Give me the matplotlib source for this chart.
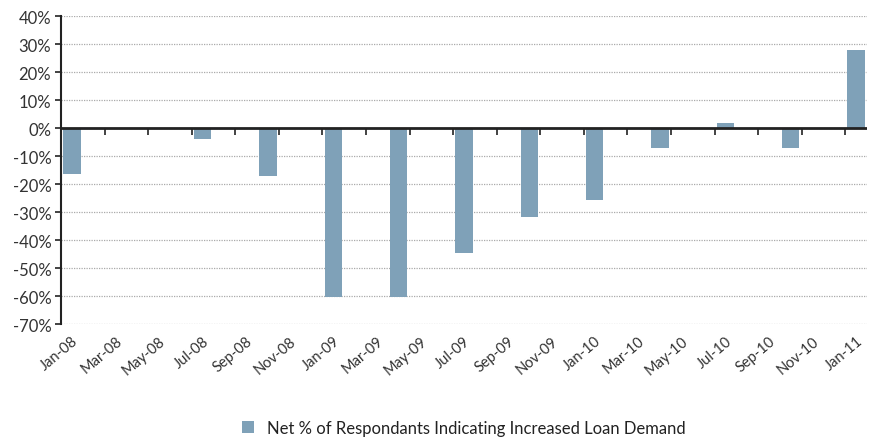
import matplotlib
matplotlib.use("Agg")
import matplotlib.pyplot as plt
import numpy as np
from matplotlib.patches import Patch

# --- data ---
months = ["Jan-08", "Feb-08", "Mar-08", "Apr-08", "May-08", "Jun-08", "Jul-08", "Aug-08", "Sep-08",
          "Oct-08", "Nov-08", "Dec-08", "Jan-09", "Feb-09", "Mar-09", "Apr-09", "May-09", "Jun-09",
          "Jul-09", "Aug-09", "Sep-09", "Oct-09", "Nov-09", "Dec-09", "Jan-10", "Feb-10", "Mar-10",
          "Apr-10", "May-10", "Jun-10", "Jul-10", "Aug-10", "Sep-10", "Oct-10", "Nov-10", "Dec-10",
          "Jan-11"]
bar_months = ["Jan-08", "Apr-08", "Jul-08", "Oct-08", "Jan-09", "Apr-09", "Jul-09", "Oct-09",
              "Jan-10", "Apr-10", "Jul-10", "Oct-10", "Jan-11"]
bar_values = [-16.5, 0, -4, -17, -60.5, -60.5, -44.5, -31.8, -25.7, -7.2, 1.7, -7.2, 28]
series_name = "Net % of Respondants Indicating Increased Loan Demand"
y_ticks = [40, 30, 20, 10, 0, -10, -20, -30, -40, -50, -60, -70]

plt.rcParams['font.family'] = ['Lato', 'DejaVu Sans']

bar_color = "#7FA1B8"

fig = plt.figure(figsize=(8.85, 4.39), dpi=100)
ax = fig.add_axes([61 / 885, 1 - 325 / 439, (867 - 61) / 885, (325 - 17) / 439])

idx = {m: i for i, m in enumerate(months)}
xs = [idx[m] for m in bar_months]
ax.bar(xs, bar_values, width=0.8, color=bar_color, linewidth=0, zorder=3)

ax.set_xlim(-0.5, len(months) - 0.5)
ax.set_ylim(-70, 40)

# y axis
ax.set_yticks(y_ticks)
ax.set_yticklabels([f"{v}%" for v in y_ticks], fontsize=12, color="#333333")
ax.tick_params(axis='y', direction='out', length=4, width=1.2, color="#222222", pad=3)
ax.yaxis.grid(True, linestyle=(0, (1, 1)), color="#aaaaaa", linewidth=0.9, zorder=0)

for s in ["top", "right", "bottom"]:
    ax.spines[s].set_visible(False)
ax.spines["left"].set_color("#222222")
ax.spines["left"].set_linewidth(1.5)

# x tick labels at bottom (no tick marks)
label_pos = list(range(0, len(months), 2))
ax.set_xticks(label_pos)
ax.set_xticklabels([months[i] for i in label_pos], rotation=40, ha='right',
                   rotation_mode='anchor', fontsize=10.5, color="#333333")
ax.tick_params(axis='x', length=0, pad=7)

# zero axis line with downward tick marks between category pairs
ax.axhline(0, color="#222222", linewidth=2, zorder=5)
boundaries = [i + 1.5 for i in range(0, len(months) - 1, 2)]
ax.plot(boundaries, [0] * len(boundaries), linestyle='none', marker=3, markersize=5,
        markeredgewidth=1.2, color="#222222", zorder=5, clip_on=False)

# legend
handle = Patch(facecolor=bar_color, edgecolor='none')
fig.legend([handle], [series_name], loc='center', bbox_to_anchor=(0.524, 1 - 429 / 439),
           frameon=False, fontsize=12, handlelength=0.75, handleheight=0.75, handletextpad=0.8,
           labelcolor="#222222")

fig.savefig("out.png", dpi=100)
